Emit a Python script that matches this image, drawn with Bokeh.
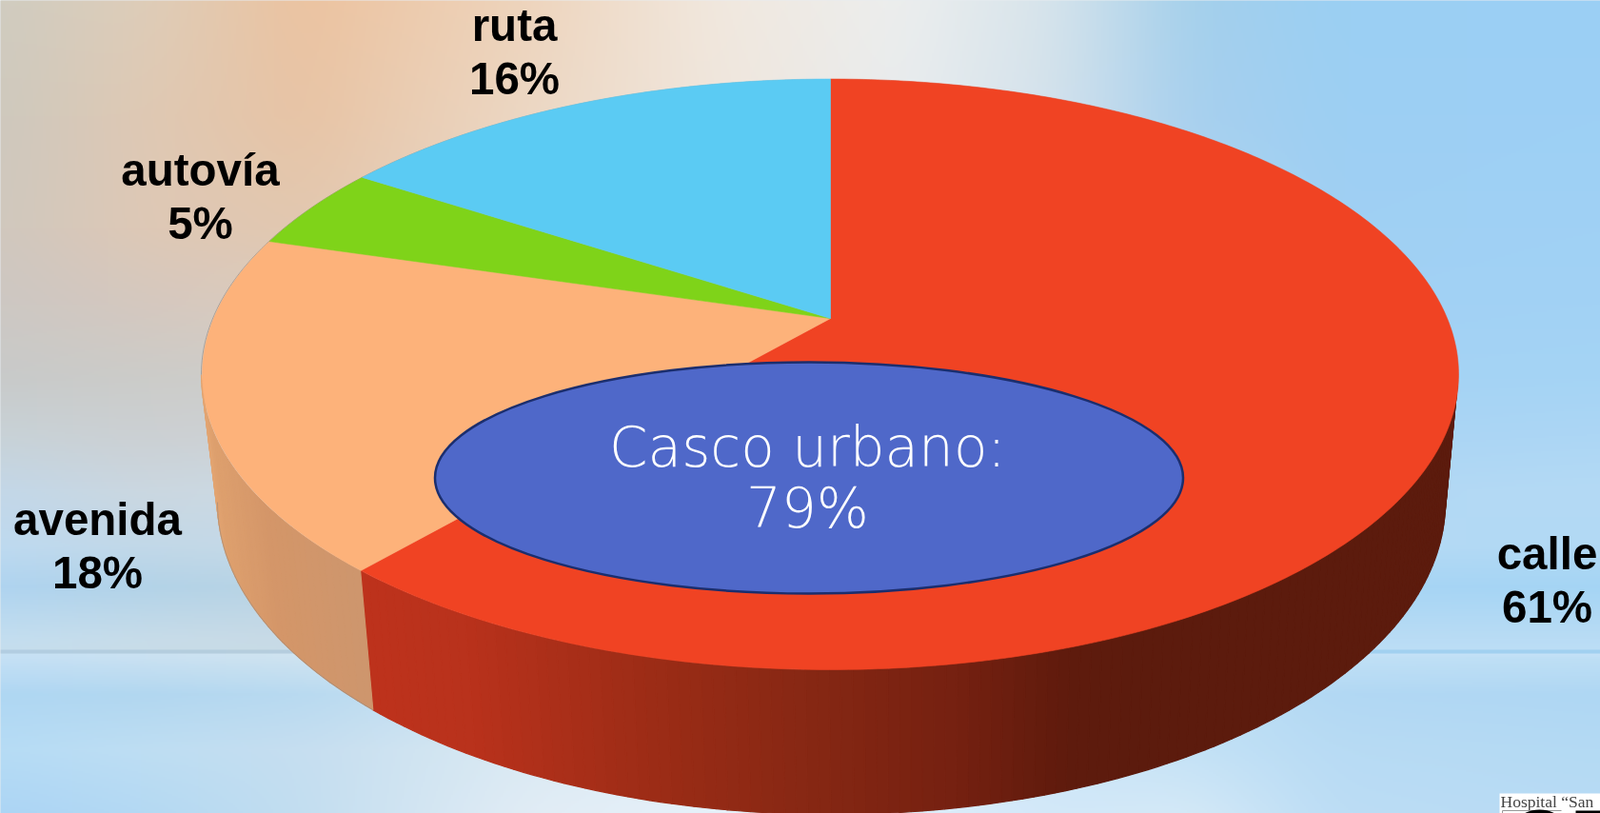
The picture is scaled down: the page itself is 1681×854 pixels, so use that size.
import numpy as np
from bokeh.plotting import figure
from bokeh.core.properties import value
from bokeh.embed import file_html
from bokeh.resources import INLINE

W, H = 1681, 854

# ---- data ----
categories = ["calle", "avenida", "autovía", "ruta"]
percent_labels = [61, 18, 5, 16]
drawn_shares = [61.3, 18.3, 4.6, 15.8]      # slice sizes as measured on the pie
slice_colors = ["#F04323", "#FDB27A", "#7FD319", "#5BCBF3"]
center_title = "Casco urbano:"
center_value = "79%"

# ---- background colour samples ----
bg_x = [0, 150, 320, 550, 750, 950, 1100, 1250, 1400, 1681]
bg_y = [0, 120, 240, 318, 397, 455, 514, 573, 616, 671, 683, 684, 687, 688, 692, 730, 788, 854]
bg_rows = [
 [(208,204,192),(222,205,185),(236,195,160),(238,212,188),(241,232,222),(236,238,238),(215,228,235),(165,208,235),(155,207,243),(155,208,245)],
 [(206,201,190),(223,201,180),(232,196,165),(236,215,195),(240,230,220),(232,236,238),(212,226,236),(168,208,238),(157,207,243),(157,208,245)],
 [(208,200,190),(222,200,182),(226,200,176),(232,215,200),(236,230,225),(228,234,238),(205,224,238),(175,212,240),(160,208,243),(160,209,245)],
 [(205,200,195),(213,200,191),(220,204,190),(226,218,210),(232,230,228),(225,232,238),(203,223,239),(178,213,241),(162,209,244),(162,210,245)],
 [(200,202,202),(204,204,201),(207,206,203),(215,220,220),(225,230,232),(220,230,238),(200,222,240),(180,215,243),(165,211,244),(165,212,245)],
 [(200,210,215),(204,208,211),(205,210,212),(214,222,226),(222,230,235),(218,230,240),(200,223,241),(182,216,244),(170,213,245),(172,214,245)],
 [(195,215,232),(203,215,224),(205,218,228),(215,225,235),(220,232,240),(215,230,242),(200,224,243),(185,218,244),(178,216,245),(180,218,245)],
 [(190,218,240),(194,216,232),(198,218,232),(210,228,240),(215,232,243),(212,230,244),(200,226,245),(188,220,245),(180,218,245),(178,217,245)],
 [(175,212,240),(179,211,232),(186,212,228),(205,224,236),(212,230,242),(210,228,244),(196,224,245),(180,216,245),(168,213,245),(165,213,245)],
 [(195,222,240),(199,220,233),(200,218,230),(205,225,238),(210,228,240),(208,228,242),(200,226,244),(190,224,246),(185,220,245),(185,220,245)],
 [(197,222,238),(200,220,232),(200,219,230),(205,225,238),(210,228,240),(208,228,242),(200,226,244),(192,225,246),(188,222,246),(188,222,246)],
 [(178,206,226),(180,205,222),(182,206,222),(190,210,226),(190,212,230),(180,212,234),(170,210,238),(162,209,240),(162,209,241),(162,209,241)],
 [(178,206,226),(180,205,222),(182,206,222),(190,210,226),(190,212,230),(180,212,234),(170,210,238),(162,209,240),(162,209,241),(162,209,241)],
 [(198,225,245),(203,226,242),(208,228,240),(218,234,246),(220,236,246),(218,234,246),(210,232,247),(200,228,248),(196,226,247),(196,226,247)],
 [(196,224,245),(201,225,242),(206,227,240),(218,234,246),(220,236,246),(218,234,246),(208,231,247),(198,227,248),(192,224,246),(190,223,245)],
 [(175,215,243),(178,215,240),(185,218,240),(205,228,244),(215,234,247),(212,232,247),(200,228,247),(190,224,245),(178,216,243),(175,215,243)],
 [(182,220,245),(190,222,243),(198,222,240),(218,234,243),(224,238,248),(218,236,249),(205,230,248),(196,226,246),(184,219,244),(180,218,243)],
 [(172,213,245),(180,217,243),(195,222,240),(225,236,245),(230,241,250),(222,238,250),(210,232,249),(212,233,247),(188,221,245),(184,219,245)],
]

# ---- pie geometry on the page ----
def Y(y):
    return H - np.asarray(y, dtype=float)

APEX_X, APEX_Y, SCALE_U, SCALE_V, TILT = 872.0, 334.0, 648.0, 299.1, 0.1894
TOP_CX, TOP_CY, TOP_RX, TOP_RY = 871.0, 393.0, 660.0, 310.0
BOT_CX, BOT_CY, BOT_RX, BOT_RY = 873.0, 527.0, 645.0, 328.0

def rim(phi):
    u, v = np.sin(phi), np.cos(phi)
    d = 1 + TILT * v
    return APEX_X + SCALE_U * u / d, APEX_Y - SCALE_V * v / d

def top_edge(alpha):
    return TOP_CX + TOP_RX * np.cos(alpha), TOP_CY + TOP_RY * np.sin(alpha)

def bot_edge(alpha):
    return BOT_CX + BOT_RX * np.cos(alpha), BOT_CY + BOT_RY * np.sin(alpha)

p = figure(width=W, height=H, x_range=(0, W), y_range=(0, H),
           output_backend="svg", toolbar_location=None, min_border=0,
           outline_line_color=None, background_fill_color="#CDD8E0", border_fill_color="#CDD8E0")
p.axis.visible = False
p.grid.visible = False
p.styles = {"position": "fixed", "left": "0", "top": "0"}

# background
step = 2
gx = np.arange(-4, W + 8, step)
gy = np.arange(-4, H + 8, step)
rows = np.array(bg_rows, dtype=float)
per_x = np.stack([[np.interp(gx, bg_x, rows[r, :, c]) for c in range(3)] for r in range(len(bg_y))])
kernel = np.ones(41) / 41
for r in range(per_x.shape[0]):
    for c in range(3):
        per_x[r, c] = np.convolve(np.pad(per_x[r, c], 20, mode="edge"), kernel, mode="valid")
field = np.stack([[np.interp(gy, bg_y, per_x[:, c, i]) for i in range(len(gx))] for c in range(3)], axis=-1)
field = field.transpose(1, 0, 2)[::-1]   # row 0 of the image is its bottom row
img = np.zeros(field.shape[:2], dtype=np.uint32)
view = img.view(dtype=np.uint8).reshape((*field.shape[:2], 4))
view[..., :3] = np.clip(field, 0, 255).astype(np.uint8)
view[..., 3] = 255
p.image_rgba(image=[img], x=-4, y=H - int(gy[-1]), dw=int(gx[-1]) + 4, dh=int(gy[-1]) + 4)

# side wall
bounds = np.cumsum([0] + drawn_shares) / sum(drawn_shares) * 2 * np.pi
bx, by = rim(bounds[1])
alpha_b = np.arctan2((by - TOP_CY) / TOP_RY, (bx - TOP_CX) / TOP_RX)

def wall(alphas, stops_x, stops_rgb):
    xs, ys, cols = [], [], []
    stops = np.array(stops_rgb, dtype=float)
    for a0, a1 in zip(alphas[:-1], alphas[1:]):
        tx0, ty0 = top_edge(a0); tx1, ty1 = top_edge(a1)
        lx0, ly0 = bot_edge(a0); lx1, ly1 = bot_edge(a1)
        xs.append([tx0, tx1, lx1, lx0])
        ys.append(list(Y([ty0, ty1, ly1, ly0])))
        mid = (lx0 + lx1) / 2
        c = [int(np.interp(mid, stops_x, stops[:, k])) for k in range(3)]
        cols.append("#%02x%02x%02x" % tuple(c))
    p.patches(xs, ys, fill_color=cols, line_color=cols, line_width=1.2)

wall(np.linspace(0, alpha_b, 130), [390, 500, 700, 850, 1000, 1120, 1200, 1530],
     [(190,50,28),(185,50,28),(155,44,22),(135,40,20),(118,33,17),(95,27,13),(92,27,13),(92,27,13)])
wall(np.linspace(alpha_b, np.pi, 40), [215, 240, 300, 390],
     [(232,170,118),(222,160,110),(212,150,105),(206,150,110)])

# gray hairline on the outside of the solid
al = np.linspace(np.pi, 2 * np.pi, 200)
ox, oy = top_edge(al)
p.line(ox, Y(oy), line_color="#808080", line_width=1, line_alpha=0.55)
al = np.linspace(alpha_b, np.pi, 60)
ox, oy = bot_edge(al)
p.line(ox, Y(oy), line_color="#808080", line_width=1, line_alpha=0.45)

# top face
for i, col in enumerate(slice_colors):
    phis = np.linspace(bounds[i], bounds[i + 1], 300)
    rx, ry = rim(phis)
    xs = np.concatenate([[APEX_X], rx])
    ys = np.concatenate([[APEX_Y], ry])
    p.patch(xs, Y(ys), fill_color=col, line_color=col, line_width=0.6)

# central ellipse
p.ellipse(x=[849.5], y=Y([501.5]), width=786, height=243, fill_color="#4F68C9",
          line_color="#1B2E6E", line_width=2.5)
p.text(x=[848, 848], y=Y([469, 533]), text=[center_title, center_value],
       text_font=value("DejaVu Sans Light"), text_font_size="58px", text_color="#FFFFFF",
       text_align="center", text_baseline="alphabetic")

# slice labels
label_x = [1625, 102, 210, 540]
label_y1 = [581, 545, 178, 26]
LINE = 56
for cat, pct, lx, ly in zip(categories, percent_labels, label_x, label_y1):
    p.text(x=[lx, lx], y=Y([ly, ly + LINE]), text=[cat, f"{pct}%"],
           text_font=value("Liberation Sans"), text_font_style="bold", text_font_size="47.5px",
           text_color="#000000", text_align="center", text_baseline="alphabetic")

# fragment of a logo, bottom right corner
p.quad(left=[1575], right=[1681], top=Y([833]), bottom=Y([854]), fill_color="#FFFFFF", line_color=None)
p.text(x=[1576], y=Y([841]), text=["Hospital “San"], text_font=value("Liberation Serif"),
       text_font_size="17.5px", text_color="#444444", text_align="left", text_baseline="alphabetic")
p.line(x=[1578, 1578, 1640], y=Y([854, 851, 851]), line_color="#999999", line_width=1)
p.quad(left=[1655], right=[1681], top=Y([851]), bottom=Y([854]), fill_color="#000000", line_color=None)
p.ellipse(x=[1617], y=Y([860]), width=40, height=20, fill_color="#000000", line_color=None)

open("out.html", "w").write(file_html(p, INLINE))
